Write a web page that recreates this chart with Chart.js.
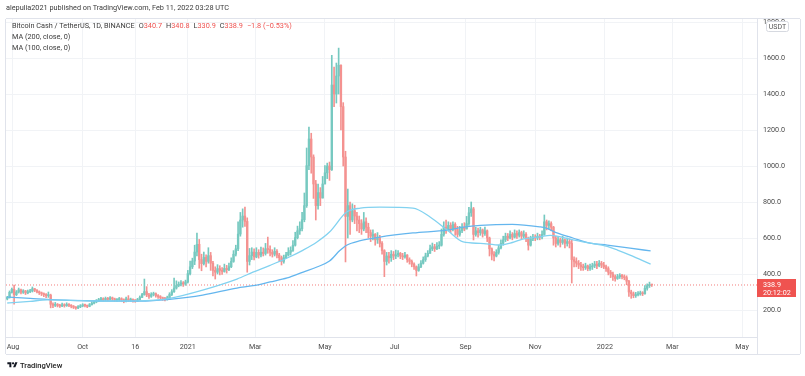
<!DOCTYPE html>
<html>
<head>
<meta charset="utf-8">
<script src="https://cdn.jsdelivr.net/npm/chart.js@4.4.0/dist/chart.umd.min.js"></script>
<style>
  html, body { margin: 0; padding: 0; background: #fff; }
  #wrap { position: relative; width: 805px; height: 376px; overflow: hidden; font-family: Roboto, "Liberation Sans", sans-serif; }
  #chart { position: absolute; left: 0; top: 0; }
  .txt { position: absolute; white-space: nowrap; font-size: 7.3px; line-height: 10px; color: #3b3b3b; }
  .red { color: #ef5350; }
  .sp { margin-left: 4px; }
  #logo { position: absolute; left: 7px; top: 360px; font-size: 7.6px; line-height: 11px; color: #222; font-weight: 500; white-space: nowrap; }
  #logo svg { vertical-align: -1px; margin-right: 2px; }
</style>
</head>
<body>
<div id="wrap">
  <canvas id="chart" width="805" height="376"></canvas>
  <div class="txt" style="left:6px;top:3px;">alepulia2021 published on TradingView.com, Feb 11, 2022 03:28 UTC</div>
  <div class="txt" id="legend1" style="left:12px;top:21px;"></div>
  <div class="txt" style="left:12px;top:32px;">MA (200, close, 0)</div>
  <div class="txt" style="left:12px;top:43px;">MA (100, close, 0)</div>
  <div id="logo"><svg width="11" height="8" viewBox="0 0 36 28"><path d="M14 22H7V11H0V4h14v18zM28 22h-8l7.5-18h8L28 22z" fill="#131722"/><circle cx="20" cy="8" r="4" fill="#131722"/></svg>TradingView</div>
</div>
<script>
// days counted from 1 Aug 2020, one candle every 2 days (last one is the live day)
const firstDay = -5;
const stepDays = 2;
const firstOpen = 262;

const closes = [
    270, 298, 315, 285, 300, 312, 298, 306, 295, 302,
    306, 318, 310, 300, 296, 290, 285, 280, 282, 232,
    226, 232, 225, 222, 229, 224, 231, 226, 221, 215,
    211, 218, 223, 228, 225, 220, 230, 238, 245, 251,
    258, 262, 257, 265, 259, 268, 262, 255, 258, 263,
    257, 250, 262, 255, 258, 252, 250, 258, 270, 286,
    302, 284, 276, 286, 291, 280, 274, 269, 262, 260,
    268, 286, 302, 322, 336, 343, 351, 344, 356, 402,
    440, 472, 522, 565, 480, 458, 492, 470, 502, 460,
    420, 410, 430, 420, 414, 431, 424, 441, 470, 510,
    540, 622, 700, 722, 692, 470, 502, 522, 495, 520,
    505, 521, 514, 540, 536, 520, 510, 526, 505, 490,
    470, 490, 506, 521, 531, 560, 602, 640, 652, 702,
    780, 1002, 1150, 1050, 900, 780, 852, 822, 900, 962,
    1000, 980, 1450, 1400, 1500, 1560, 1330, 1050, 720, 780,
    700, 752, 722, 700, 680, 650, 690, 660, 630, 610,
    620, 590, 601, 570, 530, 470, 500, 490, 510, 500,
    506, 515, 500, 495, 505, 480, 470, 455, 440, 420,
    440, 460, 480, 500, 515, 540, 551, 540, 555, 560,
    620, 660, 640, 670, 650, 675, 650, 620, 640, 660,
    650, 680, 740, 762, 620, 640, 630, 645, 625, 640,
    600, 540, 510, 500, 520, 545, 570, 590, 610, 600,
    620, 605, 625, 615, 630, 610, 620, 600, 560, 595,
    605, 600, 610, 605, 620, 690, 670, 680, 660, 600,
    570, 590, 575, 590, 570, 580, 570, 480, 470, 460,
    450, 440, 435, 445, 430, 440, 445, 455, 445, 460,
    450, 440, 430, 410, 400, 385, 375, 385, 392, 385,
    380, 360, 300, 290, 280, 285, 290, 295, 290, 320,
    335, 340.7, 338.9
];
const highs = [
    276, 306, 322, 339, 308, 322, 316, 313, 309, 311,
    315, 328, 320, 313, 306, 300, 295, 291, 300, 288,
    240, 242, 236, 232, 238, 235, 240, 236, 230, 225,
    219, 224, 230, 235, 233, 228, 236, 246, 252, 258,
    265, 271, 268, 272, 270, 275, 272, 266, 264, 270,
    268, 262, 272, 280, 266, 262, 258, 265, 278, 293,
    372, 330, 292, 296, 299, 295, 285, 280, 272, 270,
    277, 296, 313, 378, 362, 356, 363, 358, 366, 420,
    472, 488, 560, 627, 592, 510, 522, 506, 546, 520,
    470, 440, 452, 446, 436, 455, 448, 460, 490, 530,
    560, 690, 742, 762, 772, 712, 542, 546, 540, 546,
    535, 550, 545, 570, 605, 556, 535, 546, 535, 515,
    500, 505, 520, 546, 551, 586, 632, 666, 690, 742,
    850, 1100, 1216, 1182, 1062, 920, 900, 880, 942, 1002,
    1016, 1022, 1615, 1550, 1572, 1655, 1562, 1352, 1082, 872,
    800, 790, 782, 742, 722, 702, 742, 712, 682, 645,
    646, 625, 630, 615, 580, 535, 520, 520, 530, 525,
    533, 530, 520, 515, 520, 508, 490, 478, 462, 445,
    455, 475, 495, 516, 530, 560, 572, 565, 575, 580,
    650, 690, 700, 690, 685, 690, 685, 665, 665, 680,
    685, 720, 770, 800, 770, 660, 655, 660, 650, 660,
    645, 605, 545, 525, 535, 560, 590, 610, 627, 625,
    640, 630, 645, 640, 645, 638, 640, 630, 605, 610,
    620, 618, 627, 620, 640, 728, 700, 695, 690, 665,
    610, 605, 600, 610, 595, 600, 595, 590, 495, 490,
    475, 465, 455, 460, 450, 455, 460, 470, 470, 475,
    470, 465, 450, 440, 420, 410, 395, 398, 402, 398,
    395, 390, 365, 310, 300, 298, 302, 305, 302, 335,
    345, 355, 340.8
];
const lows = [
    256, 266, 294, 232, 280, 294, 290, 292, 286, 290,
    296, 300, 302, 295, 286, 280, 274, 268, 270, 212,
    213, 219, 217, 214, 218, 216, 220, 218, 212, 208,
    204, 207, 213, 218, 217, 213, 218, 227, 234, 240,
    246, 252, 250, 253, 251, 256, 253, 247, 246, 250,
    246, 240, 245, 248, 248, 244, 243, 248, 255, 268,
    282, 274, 264, 270, 278, 271, 264, 261, 254, 251,
    255, 262, 280, 298, 316, 329, 334, 331, 337, 350,
    395, 430, 452, 500, 432, 418, 450, 440, 460, 420,
    390, 372, 400, 395, 398, 410, 405, 418, 435, 465,
    500, 530, 610, 660, 664, 410, 450, 480, 478, 490,
    488, 495, 500, 505, 515, 500, 494, 500, 490, 470,
    450, 460, 485, 500, 505, 525, 555, 595, 620, 640,
    690, 770, 980, 960, 820, 700, 760, 780, 840, 900,
    930, 920, 975, 1330, 1350, 1400, 1200, 1000, 467, 600,
    620, 690, 680, 640, 630, 620, 640, 630, 600, 580,
    590, 560, 570, 550, 510, 385, 450, 460, 470, 480,
    485, 495, 485, 480, 488, 465, 455, 440, 425, 389,
    415, 435, 455, 470, 495, 515, 530, 525, 535, 540,
    555, 610, 625, 640, 630, 640, 615, 605, 610, 630,
    640, 650, 670, 720, 589, 610, 605, 615, 605, 615,
    580, 500, 478, 472, 495, 510, 540, 560, 580, 585,
    595, 590, 600, 598, 605, 595, 600, 580, 533, 555,
    585, 585, 590, 590, 595, 615, 645, 650, 640, 560,
    550, 560, 550, 565, 545, 555, 545, 350, 440, 440,
    430, 420, 420, 425, 418, 420, 425, 435, 430, 440,
    435, 430, 415, 395, 380, 365, 360, 370, 375, 372,
    368, 340, 275, 265, 268, 270, 278, 282, 280, 288,
    310, 325, 330.9
];

// moving averages
const ma100Days = [-5, 0, 15, 30, 50, 76, 100, 120, 137, 166, 196, 210, 225, 240, 254, 266, 277, 292, 304, 321,
    350, 365, 380, 394, 409, 426, 437, 446, 461, 470, 476, 490, 505, 520, 529, 540, 558];
const ma100Vals = [239, 241, 248, 256, 254, 250, 250, 253, 265, 311, 372, 410, 448, 489, 533, 578, 633, 744, 766, 772,
    766, 717, 644, 578, 570, 561, 575, 594, 606, 615, 611, 589, 572, 553, 533, 505, 455];
const ma200Days = [-5, 0, 15, 30, 50, 76, 100, 120, 137, 166, 196, 210, 225, 240, 254, 266, 277, 286, 292, 304,
    321, 350, 380, 394, 409, 437, 461, 466, 476, 490, 505, 520, 540, 558];
const ma200Vals = [272, 270, 265, 259, 254, 250, 249, 251, 259, 283, 322, 335, 356, 378, 411, 439, 472, 530, 560, 585,
    605, 628, 644, 660, 670, 676, 662, 656, 628, 600, 572, 561, 544, 528];

const xTickDays = [0, 61, 107, 153, 212, 273, 334, 396, 457, 518, 577, 638];
const xTickLabels = ["Aug", "Oct", "16", "2021", "Mar", "May", "Jul", "Sep", "Nov", "2022", "Mar", "May"];
const yTickValues = [200, 400, 600, 800, 1000, 1200, 1400, 1600, 1800];
const countdownText = "20:12:02";

const xMin = -6.1, xMax = 651.1;
const yMin = 50, yMax = 1816.7;

const upColor = "rgb(118,201,192)";
const downColor = "rgb(244,146,144)";
const lineColor = "#e0e3eb";
const gridColor = "#f1f3f6";

const candles = closes.map((c, i) => {
    const o = i === 0 ? firstOpen : closes[i - 1];
    return {
        day: firstDay + i * stepDays,
        o: o,
        c: c,
        h: Math.max(highs[i], o, c),
        l: Math.min(lows[i], o, c),
    };
});

const last = candles[candles.length - 1];
const chg = last.c - last.o;
const sign = chg < 0 ? "\u2212" : "+";
document.getElementById("legend1").innerHTML =
    "Bitcoin Cash / TetherUS, 1D, BINANCE" +
    '<span class="sp">O<span class="red">' + last.o.toFixed(1) + "</span></span>" +
    '<span class="sp">H<span class="red">' + last.h.toFixed(1) + "</span></span>" +
    '<span class="sp">L<span class="red">' + last.l.toFixed(1) + "</span></span>" +
    '<span class="sp">C<span class="red">' + last.c.toFixed(1) + "</span></span>" +
    '<span class="sp red">' + sign + Math.abs(chg).toFixed(1) + " (" + sign + Math.abs(chg / last.o * 100).toFixed(2) + "%)</span>";

const candleColor = (ctx) => {
    const k = candles[ctx.dataIndex];
    return k && k.c >= k.o ? upColor : downColor;
};

const paneDecor = {
    id: "paneDecor",
    afterDraw(chart) {
        const c = chart.ctx;
        const a = chart.chartArea;
        const yS = chart.scales.y;
        const right = 800, bottom = 354;
        c.save();
        c.strokeStyle = lineColor;
        c.lineWidth = 1;
        c.beginPath();
        c.moveTo(a.left, a.top - 0.5); c.lineTo(right, a.top - 0.5);
        c.moveTo(a.left - 0.5, a.top); c.lineTo(a.left - 0.5, bottom);
        c.moveTo(right + 0.5, a.top); c.lineTo(right + 0.5, bottom);
        c.moveTo(a.left, bottom + 0.5); c.lineTo(right, bottom + 0.5);
        c.moveTo(a.right + 0.5, a.bottom); c.lineTo(a.right + 0.5, bottom);
        c.stroke();

        // USDT badge
        c.fillStyle = "#fff";
        c.strokeStyle = "#d6d9e0";
        c.beginPath();
        c.roundRect(766.5, 21.5, 22, 10, 2);
        c.fill();
        c.stroke();
        c.fillStyle = "#555";
        c.font = "7px Roboto, sans-serif";
        c.textAlign = "center";
        c.textBaseline = "middle";
        c.fillText("USDT", 777.5, 27);

        // last price tag
        const py = yS.getPixelForValue(last.c);
        c.fillStyle = "#ef5350";
        c.fillRect(a.right, py - 6, right - a.right - 4, 18);
        c.fillStyle = "#fff";
        c.textAlign = "left";
        c.font = "7.2px Roboto, sans-serif";
        c.fillText(last.c.toFixed(1), 763, py);
        c.fillText(countdownText, 763, py + 8.5);
        c.restore();
    },
};

new Chart(document.getElementById("chart"), {
    type: "bar",
    data: {
        datasets: [
            {
                type: "line",
                label: "MA (100, close, 0)",
                data: ma100Days.map((d, i) => ({ x: d, y: ma100Vals[i] })),
                borderColor: "rgb(130,210,240)",
                borderWidth: 1.3,
                pointRadius: 0,
                cubicInterpolationMode: "monotone",
                order: 0,
            },
            {
                type: "line",
                label: "MA (200, close, 0)",
                data: ma200Days.map((d, i) => ({ x: d, y: ma200Vals[i] })),
                borderColor: "rgb(100,182,238)",
                borderWidth: 1.3,
                pointRadius: 0,
                cubicInterpolationMode: "monotone",
                order: 0,
            },
            {
                type: "bar",
                label: "body",
                data: candles.map((k) => ({ x: k.day, y: [k.o, k.c] })),
                backgroundColor: candleColor,
                barThickness: 1.7,
                minBarLength: 1,
                grouped: false,
                order: 1,
            },
            {
                type: "bar",
                label: "wick",
                data: candles.map((k) => ({ x: k.day, y: [k.l, k.h] })),
                backgroundColor: candleColor,
                barThickness: 1,
                grouped: false,
                order: 2,
            },
            {
                type: "line",
                label: "last",
                data: [{ x: xMin, y: last.c }, { x: xMax, y: last.c }],
                borderColor: "rgba(239,83,80,0.75)",
                borderWidth: 1,
                borderDash: [1, 2],
                pointRadius: 0,
                order: 3,
            },
        ],
    },
    options: {
        responsive: false,
        animation: false,
        events: [],
        layout: {
            padding: { left: 6, top: 19, right: 5, bottom: 22 },
        },
        plugins: {
            legend: { display: false },
            tooltip: { enabled: false },
        },
        scales: {
            x: {
                type: "linear",
                position: "bottom",
                min: xMin,
                max: xMax,
                offset: false,
                grid: { color: gridColor, drawTicks: false, offset: false },
                border: { color: lineColor },
                ticks: {
                    autoSkip: false,
                    maxRotation: 0,
                    padding: 6,
                    color: "#4a4a4a",
                    font: { size: 7.2, family: "Roboto, sans-serif" },
                    callback: (v, i) => xTickLabels[i],
                },
                afterBuildTicks: (s) => { s.ticks = xTickDays.map((v) => ({ value: v })); },
                afterFit: (s) => { s.height = 17; },
            },
            y: {
                type: "linear",
                position: "right",
                min: yMin,
                max: yMax,
                grid: { color: gridColor, drawTicks: false },
                border: { color: lineColor },
                ticks: {
                    padding: 6,
                    color: "#4a4a4a",
                    font: { size: 7.2, family: "Roboto, sans-serif" },
                    callback: (v) => Number(v).toFixed(1),
                },
                afterBuildTicks: (s) => { s.ticks = yTickValues.map((v) => ({ value: v })); },
                afterFit: (s) => { s.width = 43; },
            },
        },
    },
    plugins: [paneDecor],
});
</script>
</body>
</html>
